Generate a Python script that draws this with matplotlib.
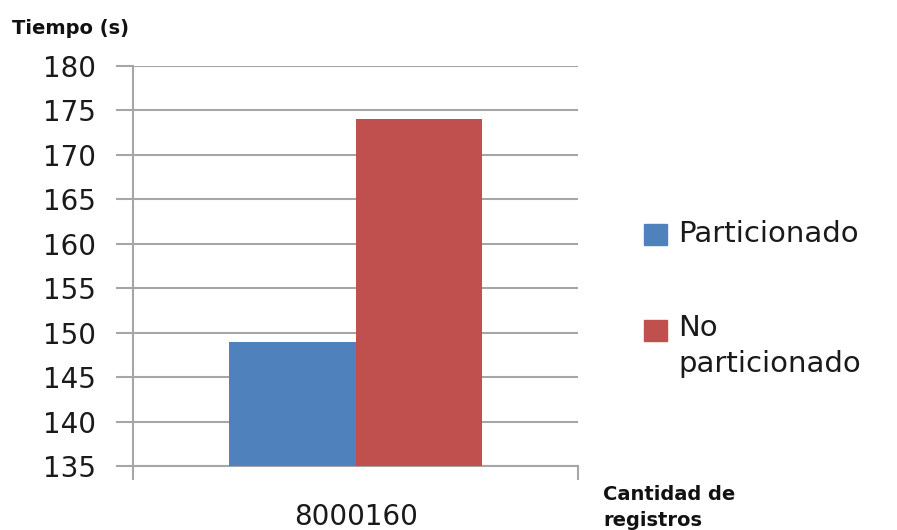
import matplotlib.pyplot as plt

# data
categoria = ['8000160']
series = ['Particionado', 'No\nparticionado']
tiempos = [149, 174]
colores = ['#4f81bd', '#c0504d']
yticks = list(range(135, 181, 5))

fig = plt.figure(figsize=(8.97, 5.30), dpi=100)
ax = fig.add_axes([133/897, 1 - 466/530, (578-133)/897, (466-66)/530])

w = 0.285
ax.bar(-w/2, tiempos[0], width=w, color=colores[0], bottom=0, zorder=3)
ax.bar(w/2, tiempos[1], width=w, color=colores[1], bottom=0, zorder=3)

ax.set_ylim(135, 180)
ax.set_xlim(-0.5, 0.5)
ax.set_yticks(yticks)
ax.set_yticklabels([str(t) for t in yticks], fontsize=20, color='#1a1a1a')
ax.yaxis.grid(True, color='#a6a6a6', linewidth=1.5, zorder=0)
ax.tick_params(axis='y', length=12, width=1.5, color='#a6a6a6', pad=15)

ax.set_xticks([-0.5, 0.5])
ax.set_xticklabels(['', ''])
ax.tick_params(axis='x', length=10, width=1.5, color='#a6a6a6')
fig.text(356/897, 1 - 517/530, categoria[0], ha='center', va='center',
         fontsize=20, color='#1a1a1a')

for s in ['top', 'right']:
    ax.spines[s].set_visible(False)
for s in ['left', 'bottom']:
    ax.spines[s].set_color('#a6a6a6')
    ax.spines[s].set_linewidth(1.5)

fig.text(12/897, 1 - 28/530, 'Tiempo (s)', fontsize=14, fontweight='bold',
         ha='left', va='center', color='#111111')
fig.text(603/897, 1 - 494/530, 'Cantidad de', fontsize=14, fontweight='bold',
         ha='left', va='center', color='#111111')
fig.text(603/897, 1 - 520/530, 'registros', fontsize=14, fontweight='bold',
         ha='left', va='center', color='#111111')

# legend
fig.text(678/897, 1 - 234/530, series[0], fontsize=21, ha='left', va='center', color='#1a1a1a')
fig.text(678/897, 1 - 346/530, series[1], fontsize=21, ha='left', va='center', color='#1a1a1a',
         linespacing=1.35)
fig.patches.append(plt.Rectangle((644/897, 1 - 245/530), 23/897, 21/530,
                                 transform=fig.transFigure, color=colores[0]))
fig.patches.append(plt.Rectangle((644/897, 1 - 341/530), 23/897, 21/530,
                                 transform=fig.transFigure, color=colores[1]))

fig.savefig('out.png', dpi=100)
